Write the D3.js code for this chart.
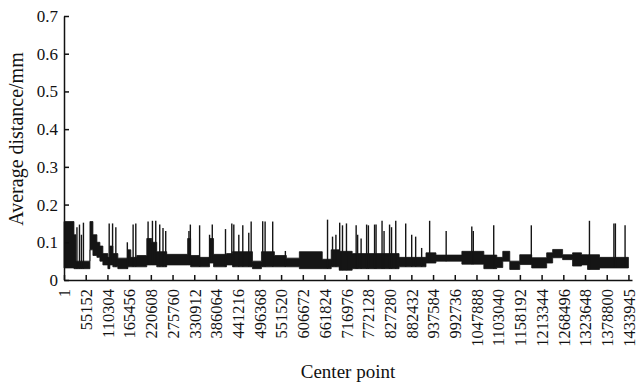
<!DOCTYPE html>
<html><head><meta charset="utf-8">
<script src="https://cdn.jsdelivr.net/npm/d3@7"></script>
<style>
body{margin:0;background:#fff}
svg{display:block}
svg text{font-family:"Liberation Serif","Times New Roman",Tinos,Times,serif !important;fill:#111}
</style>
</head><body>
<svg id="c" width="636" height="387" font-family="Liberation Serif"></svg>
<script>
// ---- data ----
const xTickValues = [1,55152,110304,165456,220608,275760,330912,386064,441216,496368,551520,606672,661824,716976,772128,827280,882432,937584,992736,1047888,1103040,1158192,1213344,1268496,1323648,1378800,1433945];
const yTickValues = [0,0.1,0.2,0.3,0.4,0.5,0.6,0.7];
const lastPoint = 1433945;
// noisy band: each segment starts at bandStart, spans bandLow..bandHigh (mm)
const bandStart = [1,25300,30400,65900,73500,83600,91200,98800,111500,116500,124100,136800,162100,169700,184900,210300,222900,235600,260900,314100,321700,344500,369800,379900,412900,428100,478800,501600,534500,564900,597900,656100,678900,699200,732100,851200,919600,944900,1010800,1066600,1099500,1114700,1132500,1157800,1188200,1226200,1241400,1266700,1292000,1314800,1330000,1360400];
const bandLow   = [0.032,0.030,0.030,0.080,0.065,0.060,0.050,0.040,0.030,0.040,0.035,0.030,0.035,0.035,0.035,0.040,0.040,0.035,0.040,0.040,0.035,0.035,0.045,0.035,0.040,0.035,0.030,0.035,0.035,0.035,0.030,0.030,0.035,0.026,0.030,0.035,0.045,0.050,0.042,0.030,0.033,0.050,0.028,0.041,0.032,0.045,0.059,0.054,0.037,0.040,0.028,0.032];
const bandHigh  = [0.155,0.120,0.050,0.155,0.120,0.100,0.090,0.070,0.060,0.090,0.070,0.058,0.080,0.060,0.065,0.110,0.100,0.075,0.068,0.110,0.065,0.060,0.110,0.068,0.070,0.075,0.050,0.075,0.065,0.058,0.075,0.055,0.080,0.076,0.070,0.060,0.072,0.066,0.076,0.066,0.060,0.076,0.050,0.067,0.059,0.072,0.081,0.067,0.072,0.067,0.067,0.060];
// isolated spikes: position and peak value (mm)
const spikeIndex = [32900,39300,44300,49400,114800,123400,131700,160900,175600,182400,213600,224700,233100,243200,251500,258400,317400,321000,344500,369800,376700,410300,426300,431400,444100,454200,469400,475500,504800,510900,530200,562400,669500,682200,690800,700400,707500,717600,742200,746000,754800,768800,773300,789000,792800,808000,813100,827100,832100,842800,868100,883300,893400,908600,928900,970900,1036000,1039800,1091700,1187200,1334900,1397000,1400800,1425400];
const spikePeak  = [0.140,0.147,0.120,0.152,0.150,0.150,0.140,0.100,0.147,0.150,0.155,0.157,0.157,0.147,0.138,0.130,0.130,0.147,0.145,0.120,0.147,0.135,0.150,0.147,0.120,0.145,0.125,0.155,0.156,0.155,0.155,0.077,0.160,0.115,0.120,0.152,0.145,0.150,0.145,0.120,0.110,0.147,0.145,0.147,0.147,0.157,0.130,0.147,0.140,0.157,0.150,0.120,0.115,0.085,0.157,0.130,0.142,0.130,0.145,0.145,0.157,0.150,0.150,0.145];

// ---- drawing ----
const FONT = '"Liberation Serif","Times New Roman",Tinos,serif';
const svg = d3.select('#c');
const x = d3.scaleLinear().domain([1, 1443000]).range([64, 632]);
const y = d3.scaleLinear().domain([0, 0.7]).range([280, 16]);

const band = bandStart.map((s, i) => ({s, lo: bandLow[i], hi: bandHigh[i]}));
const bandPts = band.concat([{s: lastPoint, lo: bandLow[bandLow.length-1], hi: bandHigh[bandHigh.length-1]}]);

const area = d3.area().curve(d3.curveStepAfter)
  .x(d => x(d.s)).y0(d => y(d.lo)).y1(d => y(d.hi));
svg.append('path').datum(bandPts).attr('d', area)
  .attr('fill', '#151515').attr('stroke', '#151515').attr('stroke-width', 0.8);

const bis = d3.bisector(d => d).right;
svg.append('g').selectAll('line').data(spikeIndex).join('line')
  .attr('x1', d => x(d)).attr('x2', d => x(d))
  .attr('y1', (d) => { const k = Math.max(0, bis(bandStart, d) - 1); return y(bandLow[k]); })
  .attr('y2', (d, i) => y(spikePeak[i]))
  .attr('stroke', '#151515').attr('stroke-width', 1.4);

// y axis
const yAxis = d3.axisLeft(y).tickValues(yTickValues).tickSizeInner(-5).tickSizeOuter(0).tickPadding(6)
  .tickFormat(d => d === 0 ? '0' : d.toFixed(1));
const gy = svg.append('g').attr('transform', 'translate(64,0)').call(yAxis).attr('font-family', FONT);
gy.selectAll('text').attr('font-size', 17).attr('font-family', FONT).attr('fill', '#111');
gy.selectAll('line,path').attr('stroke', '#111').attr('stroke-width', 1.5);

// x axis
const xAxis = d3.axisBottom(x).tickValues(xTickValues).tickSizeInner(-5).tickSizeOuter(0).tickFormat(d => String(d));
const gx = svg.append('g').attr('transform', 'translate(0,280)').call(xAxis).attr('font-family', FONT);
gx.selectAll('line,path').attr('stroke', '#111').attr('stroke-width', 1.5);
gx.selectAll('text')
  .attr('font-size', 16.5).attr('font-family', FONT).attr('fill', '#111')
  .attr('y', null).attr('dy', '0.35em').attr('x', null)
  .attr('text-anchor', 'end')
  .attr('transform', 'translate(0,9) rotate(-90)');

// axis titles
svg.append('text').attr('transform', 'translate(23,139) rotate(-90)').attr('font-family', FONT)
  .attr('text-anchor', 'middle').attr('font-size', 20).text('Average distance/mm');
svg.append('text').attr('x', 348).attr('y', 378).attr('font-family', FONT)
  .attr('text-anchor', 'middle').attr('font-size', 19).text('Center point');
</script>
</body></html>
